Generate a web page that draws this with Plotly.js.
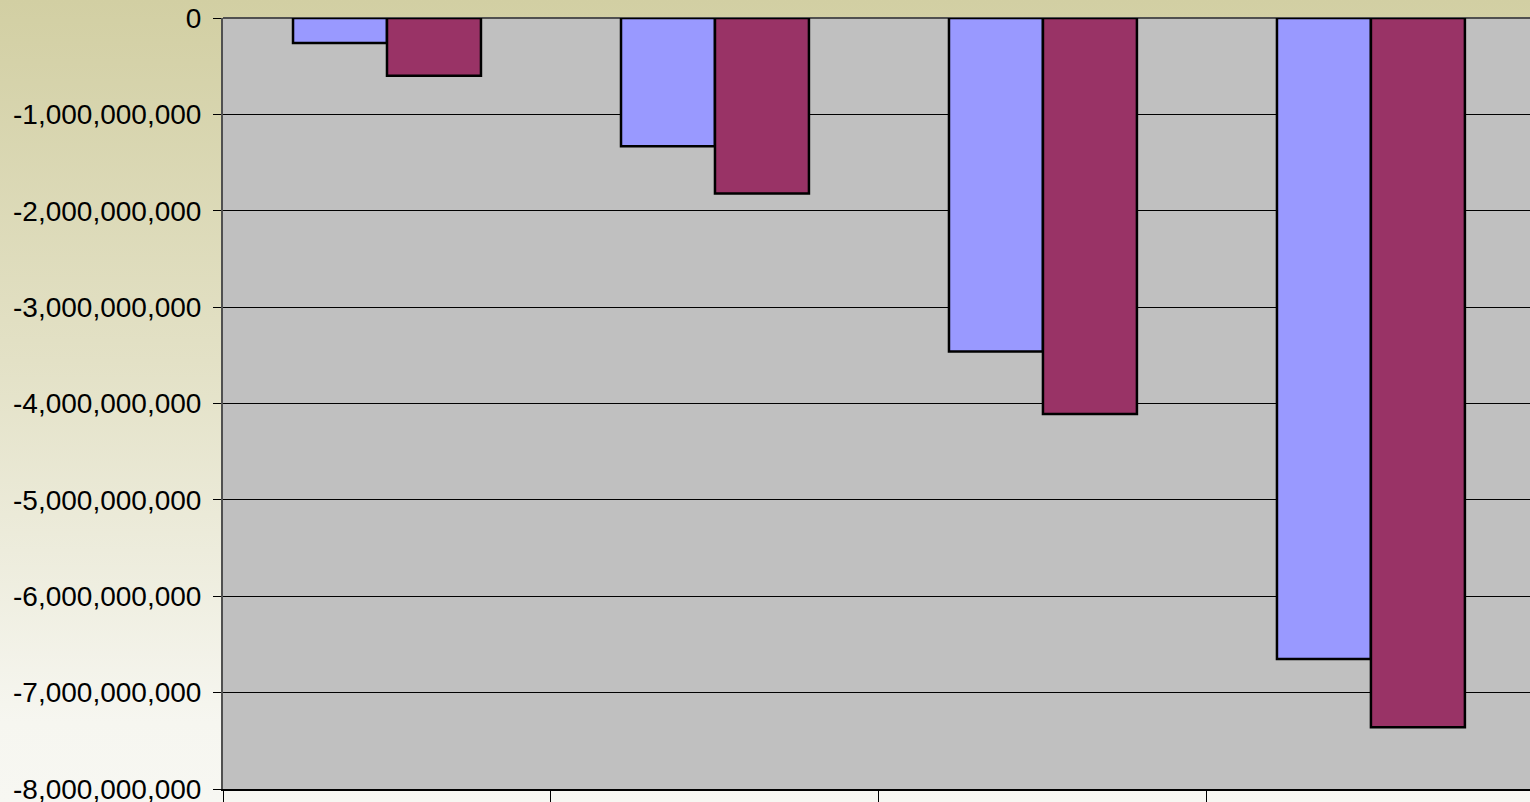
<!DOCTYPE html>
<html>
<head>
<meta charset="utf-8">
<script src="https://cdn.plot.ly/plotly-3.0.1.min.js"></script>
<style>
  html, body { margin: 0; padding: 0; overflow: hidden; }
  body { width: 1530px; height: 802px; background: linear-gradient(to bottom, #D2CFA3 0%, #E3E1C6 45%, #F6F6F0 90%, #F7F7F2 100%); }
  #chart { width: 1530px; height: 802px; }
</style>
</head>
<body>
<div id="chart"></div>
<script>
const categories = ['1', '2', '3', '4'];
const seriesA = [-0.26e9, -1.33e9, -3.46e9, -6.65e9];
const seriesB = [-0.60e9, -1.82e9, -4.11e9, -7.36e9];
const yTickVals = [0, -1e9, -2e9, -3e9, -4e9, -5e9, -6e9, -7e9, -8e9];
const yTickText = ['0', '-1,000,000,000', '-2,000,000,000', '-3,000,000,000', '-4,000,000,000',
                   '-5,000,000,000', '-6,000,000,000', '-7,000,000,000', '-8,000,000,000'];

const traces = [
  { type: 'bar', x: categories, y: seriesA, name: 'Series 1',
    marker: { color: '#9999FF', line: { color: '#000000', width: 2.5 } } },
  { type: 'bar', x: categories, y: seriesB, name: 'Series 2',
    marker: { color: '#993366', line: { color: '#000000', width: 2.5 } } }
];

const layout = {
  width: 1530, height: 802,
  margin: { l: 223, r: 0, t: 18, b: 13, pad: 0 },
  paper_bgcolor: 'rgba(0,0,0,0)',
  plot_bgcolor: '#C0C0C0',
  showlegend: false,
  barmode: 'group',
  bargap: 0.427,
  bargroupgap: 0,
  font: { family: 'Liberation Sans, Arial, sans-serif', color: '#000000' },
  xaxis: {
    type: 'category',
    range: [-0.5, 3.485],
    showticklabels: false,
    tickson: 'boundaries',
    ticks: 'outside', ticklen: 11, tickwidth: 1, tickcolor: '#000000',
    showgrid: false,
    showline: true, linecolor: '#000000', linewidth: 2,
    fixedrange: true
  },
  yaxis: {
    range: [-8e9, 0],
    tickvals: yTickVals,
    ticktext: yTickText,
    ticks: 'outside', ticklen: 8, tickwidth: 1, tickcolor: '#000000',
    ticklabelstandoff: 6,
    ticklabeloverflow: 'allow',
    tickfont: { size: 28, color: '#000000', family: 'Liberation Sans, Arial, sans-serif' },
    showgrid: true, gridcolor: '#000000', gridwidth: 1,
    zeroline: true, zerolinecolor: '#505050', zerolinewidth: 2,
    showline: true, linecolor: '#505050', linewidth: 2,
    fixedrange: true
  }
};

Plotly.newPlot('chart', traces, layout, { displayModeBar: false, staticPlot: true });
</script>
</body>
</html>
